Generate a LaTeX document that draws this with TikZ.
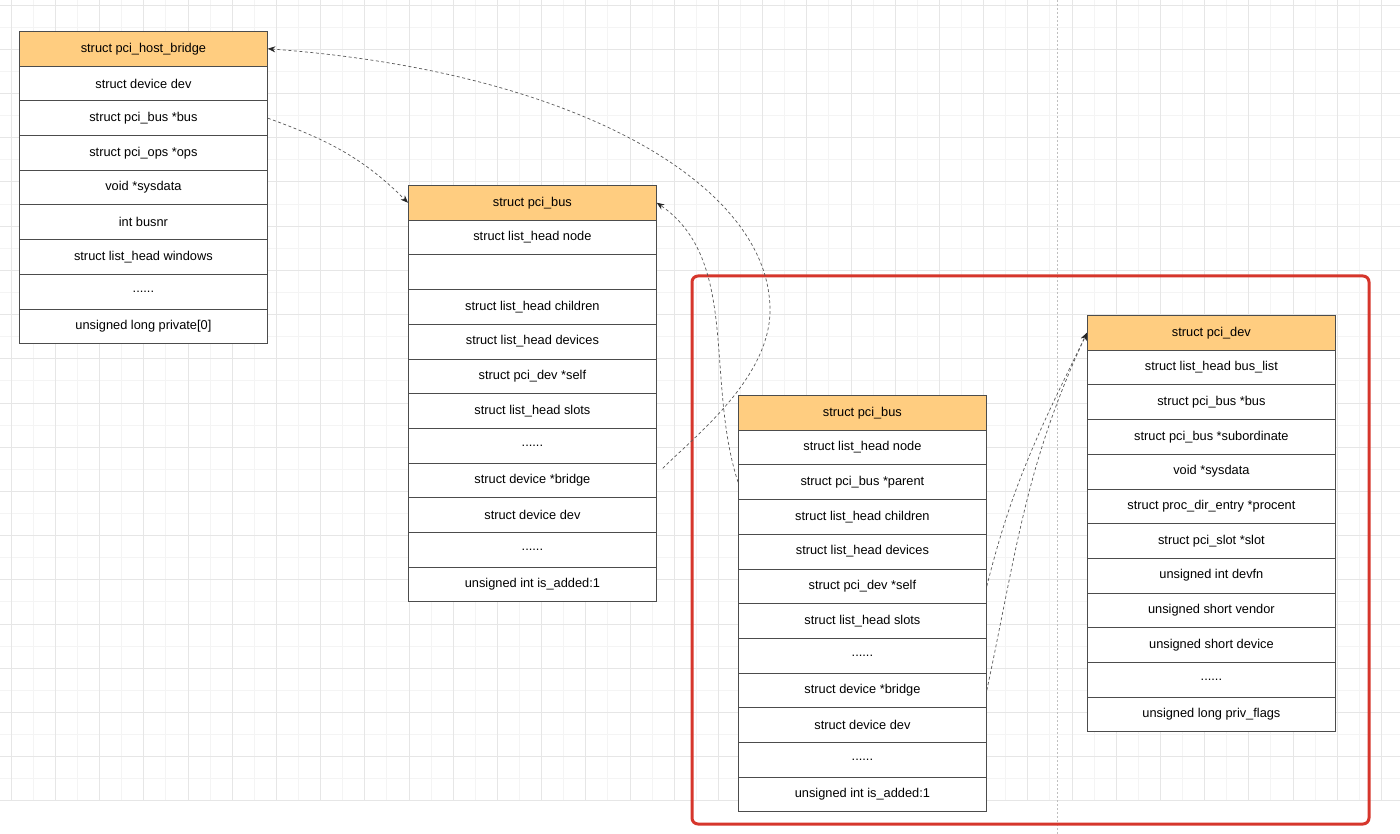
\documentclass[tikz,border=0pt]{standalone}
\usepackage{fontspec}
\setmainfont{Liberation Sans}
\usetikzlibrary{arrows.meta}

\definecolor{headfill}{RGB}{255,205,128}
\definecolor{framered}{RGB}{214,54,44}
\definecolor{gridminor}{RGB}{244,244,244}
\definecolor{gridmajor}{RGB}{230,230,230}
\newcommand{\fielddots}{......}

\begin{document}
\begin{tikzpicture}[x=1pt, y=1pt,
    field/.style={draw=black!70, line width=0.8pt, fill=white, anchor=north west,
        minimum width=248pt, minimum height=34.7pt, inner sep=0pt,
        font=\fontsize{12.8}{15}\selectfont},
    head/.style={field, fill=headfill},
    link/.style={draw=black!65, line width=0.7pt, dash pattern=on 3pt off 2.5pt,
        -{Stealth[length=7.5pt,width=6pt,color=black!85]}}]
    \useasboundingbox (0,0) rectangle (1400,-834);
    \fill[white] (0,0) rectangle (1400,-834);

    % background grid
    \foreach \k in {0,...,63}
        \draw[gridminor, line width=0.6pt] ({11+22.1*\k},0) -- ({11+22.1*\k},-800.6);
    \foreach \k in {0,...,36}
        \draw[gridminor, line width=0.6pt] (0,{-5-22.1*\k}) -- (1400,{-5-22.1*\k});
    \foreach \k in {0,2,...,62}
        \draw[gridmajor, line width=0.6pt] ({11+22.1*\k},0) -- ({11+22.1*\k},-800.6);
    \foreach \k in {0,2,...,36}
        \draw[gridmajor, line width=0.6pt] (0,{-5-22.1*\k}) -- (1400,{-5-22.1*\k});
    \draw[gray!50, line width=0.6pt, dash pattern=on 2pt off 2pt] (1057,0) -- (1057,-834);

    % highlight frame
    \draw[framered, line width=3pt, rounded corners=6pt] (692,-276) rectangle (1369,-824);

    % struct pci_host_bridge
    \node[head] (hb-0) at (19,-31) {struct pci\_host\_bridge};
    \foreach \txt [count=\i] in {struct device dev, struct pci\_bus *bus, struct pci\_ops *ops,
        void *sysdata, int busnr, struct list\_head windows, \fielddots, unsigned long private[0]}
        \node[field] (hb-\i) at (19,{-31-34.7*\i}) {\txt};

    % struct pci_bus (root)
    \node[head] (bus-0) at (408,-185) {struct pci\_bus};
    \foreach \txt [count=\i] in {struct list\_head node, {}, struct list\_head children,
        struct list\_head devices, struct pci\_dev *self, struct list\_head slots, \fielddots,
        struct device *bridge, struct device dev, \fielddots, unsigned int is\_added:1}
        \node[field] (bus-\i) at (408,{-185-34.7*\i}) {\txt};

    % struct pci_bus (child)
    \node[head] (sub-0) at (738,-395) {struct pci\_bus};
    \foreach \txt [count=\i] in {struct list\_head node, struct pci\_bus *parent,
        struct list\_head children, struct list\_head devices, struct pci\_dev *self,
        struct list\_head slots, \fielddots, struct device *bridge, struct device dev, \fielddots,
        unsigned int is\_added:1}
        \node[field] (sub-\i) at (738,{-395-34.7*\i}) {\txt};

    % struct pci_dev
    \node[head] (dev-0) at (1087,-315) {struct pci\_dev};
    \foreach \txt [count=\i] in {struct list\_head bus\_list, struct pci\_bus *bus,
        struct pci\_bus *subordinate, void *sysdata, struct proc\_dir\_entry *procent,
        struct pci\_slot *slot, unsigned int devfn, unsigned short vendor,
        unsigned short device, \fielddots, unsigned long priv\_flags}
        \node[field] (dev-\i) at (1087,{-315-34.7*\i}) {\txt};

    % pointers
    \coordinate (turn) at (770,-310);
    \draw[link] (hb-2.east) to[out=-20,in=135] (bus-0.west);
    \draw[link] ([xshift=6pt,yshift=12pt]bus-8.east) .. controls (690,-440) and (770,-380) .. (turn)
        .. controls (770,-187) and (581,-72) .. (hb-0.east);
    \draw[link] (sub-2.west) .. controls (705,-380) and (740,-260) .. (bus-0.east);
    \draw[link] (sub-5.east) to[out=76,in=-116] (dev-0.west);
    \draw[link] (sub-8.east) to[out=78,in=-115] (dev-0.west);
\end{tikzpicture}
\end{document}
